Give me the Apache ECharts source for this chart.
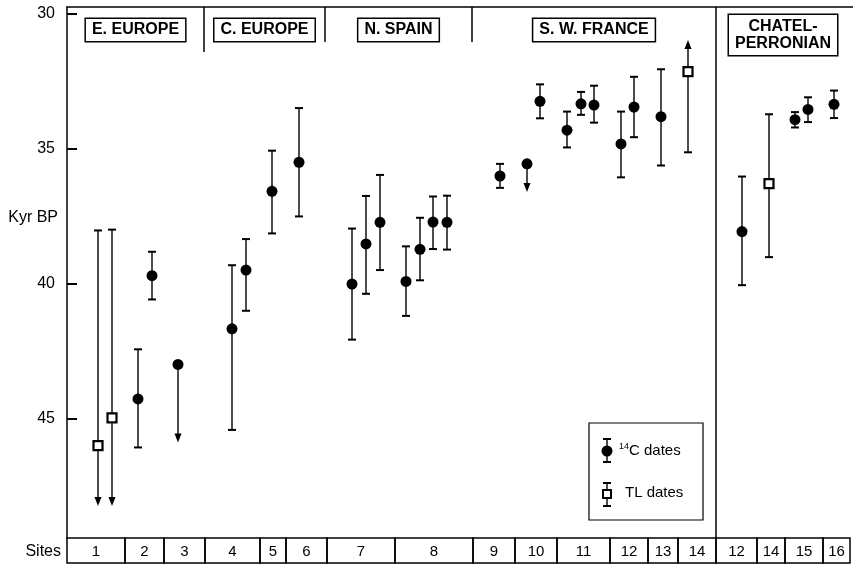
<!DOCTYPE html>
<html><head><meta charset="utf-8">
<script src="https://cdn.jsdelivr.net/npm/echarts@6/dist/echarts.min.js"></script>
<style>html,body{margin:0;padding:0;background:#fff}#c{width:853px;height:565px}</style>
</head><body><div id="c"></div>
<script>
// ---- DATA ----
// position of each date along the site strip (units of the horizontal site axis)
const c14Pos   = [71, 85, 111, 165, 179, 205, 232, 285, 299, 313, 339, 353, 366, 380, 433, 460, 473, 500, 514, 527, 554, 567, 594, 675, 728, 741, 767];
const c14Age   = [44.28, 39.71, 43.0, 41.68, 39.50, 36.58, 35.50, 40.02, 38.53, 37.73, 39.92, 38.73, 37.72, 37.73, 36.01, 35.56, 33.24, 34.31, 33.33, 33.38, 34.82, 33.45, 33.81, 38.07, 33.92, 33.54, 33.35];
const c14Young = [42.44, 38.82, null, 39.32, 38.35, 35.07, 33.49, 37.96, 36.75, 35.97, 38.62, 37.56, 36.77, 36.74, 35.56, null, 32.61, 33.62, 32.89, 32.66, 33.62, 32.33, 32.05, 36.03, 33.64, 33.09, 32.84];
const c14Old   = [46.08, 40.59, 45.9, 45.43, 41.01, 38.14, 37.51, 42.08, 40.38, 39.50, 41.20, 39.88, 38.72, 38.74, 36.45, 36.60, 33.87, 34.95, 33.74, 34.03, 36.06, 34.57, 35.62, 40.06, 34.21, 34.01, 33.86];
const c14Limit = ['', '', 'older', '', '', '', '', '', '', '', '', '', '', '', '', 'older', '', '', '', '', '', '', '', '', '', '', ''];

const tlPos   = [31, 45, 621, 702];
const tlAge   = [46.01, 44.98, 32.14, 36.29];
const tlYoung = [38.03, 38.0, 30.96, 33.72];
const tlOld   = [48.25, 48.25, 35.13, 39.02];
const tlLimit = ['older', 'older', 'younger', ''];

const regionNames = ['E. EUROPE', 'C. EUROPE', 'N. SPAIN', 'S. W. FRANCE', 'CHATEL-\nPERRONIAN'];
const regionEdges = [0, 137, 258, 405, 649, 783];

const siteLabels = ['1','2','3','4','5','6','7','8','9','10','11','12','13','14','12','14','15','16'];
const siteEdges  = [0, 58, 97, 138, 193, 219, 260, 328, 406, 448, 490, 543, 581, 611, 649, 690, 718, 756, 783];

const yTicks = [30, 35, 40, 45];
const yMin = 29.74, yMax = 49.44;
const xMax = 786;

// ---- BUILD ----
const FONT = '"Liberation Sans", Arial, Helvetica, sans-serif';
function errData(pos, age, young, old, limit) {
  return pos.map((p, i) => {
    const top = young[i] == null ? age[i] : young[i];
    const bot = old[i] == null ? age[i] : old[i];
    const topKind = young[i] == null ? 0 : (limit[i] === 'younger' ? 2 : 1);
    const botKind = old[i] == null ? 0 : (limit[i] === 'older' ? 2 : 1);
    return [p, top, bot, topKind, botKind];
  });
}
function renderErr(params, api) {
  const x = api.value(0);
  const p1 = api.coord([x, api.value(1)]);
  const p2 = api.coord([x, api.value(2)]);
  const tk = api.value(3), bk = api.value(4);
  const st = { stroke: '#000', lineWidth: 1.4 };
  const ch = [];
  let y1 = p1[1], y2 = p2[1];
  if (tk === 2) y1 += 8;
  if (bk === 2) y2 -= 8;
  ch.push({ type: 'line', shape: { x1: p1[0], y1: y1, x2: p2[0], y2: y2 }, style: st });
  const cw = 4;
  if (tk === 1) ch.push({ type: 'line', shape: { x1: p1[0] - cw, y1: p1[1], x2: p1[0] + cw, y2: p1[1] }, style: { stroke: '#000', lineWidth: 2 } });
  if (bk === 1) ch.push({ type: 'line', shape: { x1: p2[0] - cw, y1: p2[1], x2: p2[0] + cw, y2: p2[1] }, style: { stroke: '#000', lineWidth: 2 } });
  if (tk === 2) ch.push({ type: 'polygon', shape: { points: [[p1[0], p1[1]], [p1[0] - 3.5, p1[1] + 9], [p1[0] + 3.5, p1[1] + 9]] }, style: { fill: '#000' } });
  if (bk === 2) ch.push({ type: 'polygon', shape: { points: [[p2[0], p2[1]], [p2[0] - 3.5, p2[1] - 9], [p2[0] + 3.5, p2[1] - 9]] }, style: { fill: '#000' } });
  return { type: 'group', children: ch };
}

const regionData = regionNames.map((n, i) => [regionEdges[i], regionEdges[i + 1], 30]);
const siteData = siteLabels.map((n, i) => [siteEdges[i], siteEdges[i + 1], 0]);

const chart = echarts.init(document.getElementById('c'), null, { renderer: 'canvas' });
chart.setOption({
  animation: false,
  backgroundColor: '#fff',
  grid: [
    { left: 67, right: 0, top: 7, height: 531 },
    { left: 67, right: 0, top: 538, height: 25 }
  ],
  xAxis: [
    { gridIndex: 0, type: 'value', min: 0, max: xMax, position: 'top',
      axisLine: { show: true, lineStyle: { color: '#000', width: 1.5 } },
      axisTick: { show: false }, axisLabel: { show: false }, splitLine: { show: false } },
    { gridIndex: 1, type: 'value', min: 0, max: xMax, show: false }
  ],
  yAxis: [
    { gridIndex: 0, type: 'value', inverse: true, min: yMin, max: yMax,
      axisLine: { show: true, lineStyle: { color: '#000', width: 1.5 } },
      axisTick: { show: true, inside: true, length: 10, customValues: yTicks, lineStyle: { color: '#000', width: 2 } },
      axisLabel: { customValues: yTicks, color: '#000', fontSize: 16, fontFamily: FONT, margin: 12 },
      splitLine: { show: false } },
    { gridIndex: 1, type: 'value', min: 0, max: 1, show: false }
  ],
  series: [
    { type: 'custom', name: 'c14err', xAxisIndex: 0, yAxisIndex: 0, renderItem: renderErr,
      data: errData(c14Pos, c14Age, c14Young, c14Old, c14Limit), z: 2, silent: true },
    { type: 'custom', name: 'tlerr', xAxisIndex: 0, yAxisIndex: 0, renderItem: renderErr,
      data: errData(tlPos, tlAge, tlYoung, tlOld, tlLimit), z: 2, silent: true },
    { type: 'scatter', name: '14C dates', xAxisIndex: 0, yAxisIndex: 0, symbol: 'circle', symbolSize: 11,
      itemStyle: { color: '#000', opacity: 1 }, data: c14Pos.map((p, i) => [p, c14Age[i]]), z: 5 },
    { type: 'scatter', name: 'TL dates', xAxisIndex: 0, yAxisIndex: 0, symbol: 'rect', symbolSize: 9,
      itemStyle: { color: '#fff', borderColor: '#000', borderWidth: 2.2, opacity: 1 }, data: tlPos.map((p, i) => [p, tlAge[i]]), z: 5 },
    { type: 'custom', name: 'regions', xAxisIndex: 0, yAxisIndex: 0, silent: true, z: 4,
      encode: { x: [0, 1], y: 2 }, data: regionData,
      renderItem(params, api) {
        const i = params.dataIndex;
        const s = api.coord([api.value(0), 30]);
        const e = api.coord([api.value(1), 30]);
        const cs = params.coordSys;
        const top = cs.y;
        const ch = [];
        ch.push({ type: 'text', x: (s[0] + e[0]) / 2, y: top + (i === 4 ? 28 : 23),
          style: { text: regionNames[i], font: 'bold 16px ' + FONT, fill: '#000', align: 'center', verticalAlign: 'middle',
            lineHeight: i === 4 ? 17 : 16, borderColor: '#000', borderWidth: 1.5, padding: [3, 6], backgroundColor: '#fff' } });
        if (i > 0) {
          const y2 = i === 4 ? top + cs.height : top + (i === 1 ? 45 : 35);
          ch.push({ type: 'line', shape: { x1: s[0], y1: top, x2: s[0], y2: y2 }, style: { stroke: '#000', lineWidth: 1.5 } });
        }
        return { type: 'group', children: ch };
      } },
    { type: 'custom', name: 'sites', xAxisIndex: 1, yAxisIndex: 1, silent: true,
      encode: { x: [0, 1], y: 2 }, data: siteData,
      renderItem(params, api) {
        const i = params.dataIndex;
        const a = api.coord([api.value(0), 1]);
        const b = api.coord([api.value(1), 0]);
        return { type: 'group', children: [
          { type: 'rect', shape: { x: a[0], y: a[1], width: b[0] - a[0], height: b[1] - a[1] },
            style: { fill: 'none', stroke: '#000', lineWidth: 1.5 } },
          { type: 'text', x: (a[0] + b[0]) / 2, y: (a[1] + b[1]) / 2 + 1,
            style: { text: siteLabels[i], font: '15px ' + FONT, fill: '#000', align: 'center', verticalAlign: 'middle' } }
        ] };
      } }
  ],
  graphic: [
    { type: 'text', x: 58, y: 218, style: { text: 'Kyr BP', font: '16px ' + FONT, fill: '#000', align: 'right', verticalAlign: 'middle' } },
    { type: 'text', x: 61, y: 552, style: { text: 'Sites', font: '16px ' + FONT, fill: '#000', align: 'right', verticalAlign: 'middle' } },
    { type: 'group', children: [
      { type: 'rect', shape: { x: 589, y: 423, width: 114, height: 97 }, style: { fill: '#fff', stroke: '#000', lineWidth: 1.2 } },
      { type: 'line', shape: { x1: 607, y1: 439, x2: 607, y2: 462 }, style: { stroke: '#000', lineWidth: 1.4 } },
      { type: 'line', shape: { x1: 603, y1: 439, x2: 611, y2: 439 }, style: { stroke: '#000', lineWidth: 2 } },
      { type: 'line', shape: { x1: 603, y1: 462, x2: 611, y2: 462 }, style: { stroke: '#000', lineWidth: 2 } },
      { type: 'circle', shape: { cx: 607, cy: 451, r: 5.5 }, style: { fill: '#000' } },
      { type: 'text', x: 619, y: 451, style: { text: '{s|14}C dates', font: '15px ' + FONT, fill: '#000', verticalAlign: 'middle',
        rich: { s: { fontSize: 9, fontFamily: FONT, padding: [0, 0, 8, 0] } } } },
      { type: 'line', shape: { x1: 607, y1: 483, x2: 607, y2: 506 }, style: { stroke: '#000', lineWidth: 1.4 } },
      { type: 'line', shape: { x1: 603, y1: 483, x2: 611, y2: 483 }, style: { stroke: '#000', lineWidth: 2 } },
      { type: 'line', shape: { x1: 603, y1: 506, x2: 611, y2: 506 }, style: { stroke: '#000', lineWidth: 2 } },
      { type: 'rect', shape: { x: 603, y: 490, width: 8, height: 8 }, style: { fill: '#fff', stroke: '#000', lineWidth: 2 } },
      { type: 'text', x: 625, y: 493, style: { text: 'TL dates', font: '15px ' + FONT, fill: '#000', verticalAlign: 'middle' } }
    ] }
  ]
});
</script>
</body></html>
